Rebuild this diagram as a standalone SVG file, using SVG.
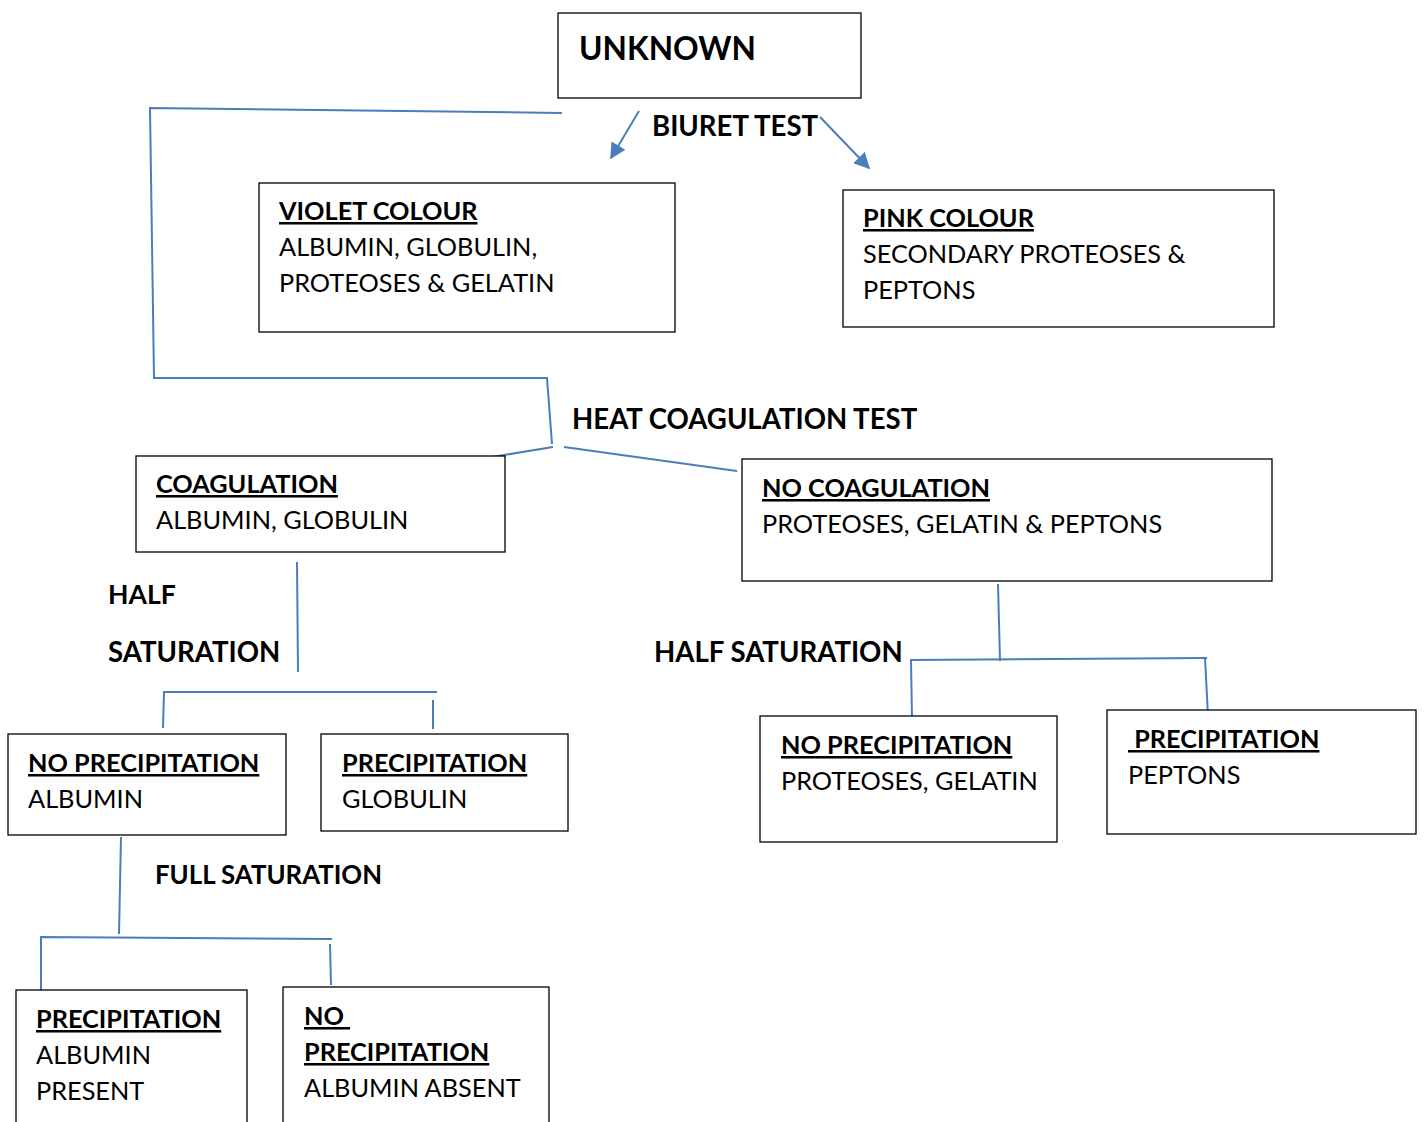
<svg xmlns="http://www.w3.org/2000/svg" width="1424" height="1122" viewBox="0 0 1424 1122">
<defs>
<style>
.box{fill:#fff;stroke:#000;stroke-width:1.3}
text{font-family:Lato,"Open Sans","Liberation Sans",sans-serif;font-size:25.3px;fill:#000}
.b{font-weight:bold}
.lb{font-weight:bold;font-size:27.6px}
.u{font-weight:bold;text-decoration:underline}
.c{stroke:#4a7ebb;stroke-width:2;fill:none}
</style>
<marker id="ah" viewBox="0 0 10 10" refX="9" refY="5" markerWidth="9" markerHeight="8" orient="auto" markerUnits="strokeWidth">
<path d="M0,0 L10,5 L0,10 z" fill="#4a7ebb"/>
</marker>
</defs>
<rect width="1424" height="1122" fill="#fff"/>
<g id="connectors">
<polyline class="c" points="562,113 150,108 154,378 547,378 552,444"/>
<line class="c" x1="639" y1="111" x2="611" y2="158" marker-end="url(#ah)"/>
<line class="c" x1="820" y1="117" x2="869" y2="168" marker-end="url(#ah)"/>
<line class="c" x1="492" y1="457" x2="553" y2="447"/>
<line class="c" x1="564" y1="447" x2="737" y2="471"/>
<line class="c" x1="297" y1="562" x2="298" y2="672"/>
<polyline class="c" points="163,728 164,692 437,692"/>
<line class="c" x1="433" y1="700" x2="433" y2="729"/>
<line class="c" x1="121" y1="837" x2="119" y2="934"/>
<polyline class="c" points="41,990 41,937 332,939"/>
<line class="c" x1="330" y1="944" x2="331" y2="985"/>
<line class="c" x1="998" y1="584" x2="1000" y2="661"/>
<polyline class="c" points="912,719 911,660 1207,658"/>
<line class="c" x1="1205" y1="658" x2="1208" y2="716"/>
<line class="c" x1="940" y1="719" x2="1000" y2="719"/>
</g>
<g id="labels">
<text class="lb" x="652" y="136">BIURET TEST</text>
<text class="lb" x="572" y="429">HEAT COAGULATION TEST</text>
<text class="lb" x="108" y="604" style="font-size:26.6px">HALF</text>
<text class="lb" x="108" y="662">SATURATION</text>
<text class="lb" x="654" y="662">HALF SATURATION</text>
<text class="lb" x="155" y="884" style="font-size:25.8px">FULL SATURATION</text>
</g>
<g id="unknown">
<rect class="box" x="558" y="13" width="303" height="85"/>
<text class="b" x="579" y="60" style="font-size:31.7px">UNKNOWN</text>
</g>
<g id="violet">
<rect class="box" x="259" y="183" width="416" height="149"/>
<text class="u" x="279" y="220">VIOLET COLOUR</text>
<text x="279" y="256">ALBUMIN, GLOBULIN,</text>
<text x="279" y="292">PROTEOSES &amp; GELATIN</text>
</g>
<g id="pink">
<rect class="box" x="843" y="190" width="431" height="137"/>
<text class="u" x="863" y="227">PINK COLOUR</text>
<text x="863" y="263">SECONDARY PROTEOSES &amp;</text>
<text x="863" y="299">PEPTONS</text>
</g>
<g id="coagulation">
<rect class="box" x="136" y="456" width="369" height="96"/>
<text class="u" x="156" y="493">COAGULATION</text>
<text x="156" y="529">ALBUMIN, GLOBULIN</text>
</g>
<g id="no-coagulation">
<rect class="box" x="742" y="459" width="530" height="122"/>
<text class="u" x="762" y="497">NO COAGULATION</text>
<text x="762" y="533">PROTEOSES, GELATIN &amp; PEPTONS</text>
</g>
<g id="no-precip-albumin">
<rect class="box" x="8" y="734" width="278" height="101"/>
<text class="u" x="28" y="772">NO PRECIPITATION</text>
<text x="28" y="808">ALBUMIN</text>
</g>
<g id="precip-globulin">
<rect class="box" x="321" y="734" width="247" height="97"/>
<text class="u" x="342" y="772">PRECIPITATION</text>
<text x="342" y="808">GLOBULIN</text>
</g>
<g id="precip-albumin-present">
<rect class="box" x="16" y="990" width="231" height="140"/>
<text class="u" x="36" y="1028">PRECIPITATION</text>
<text x="36" y="1064">ALBUMIN</text>
<text x="36" y="1100">PRESENT</text>
</g>
<g id="no-precip-albumin-absent">
<rect class="box" x="283" y="987" width="266" height="143"/>
<text class="u" x="304" y="1025" xml:space="preserve">NO </text>
<text class="u" x="304" y="1061">PRECIPITATION</text>
<text x="304" y="1097">ALBUMIN ABSENT</text>
</g>
<g id="no-precip-proteoses">
<rect class="box" x="760" y="716" width="297" height="126"/>
<text class="u" x="781" y="754">NO PRECIPITATION</text>
<text x="781" y="790">PROTEOSES, GELATIN</text>
</g>
<g id="precip-peptons">
<rect class="box" x="1107" y="710" width="309" height="124"/>
<text class="u" x="1128" y="748" xml:space="preserve"> PRECIPITATION</text>
<text x="1128" y="784">PEPTONS</text>
</g>
</svg>
